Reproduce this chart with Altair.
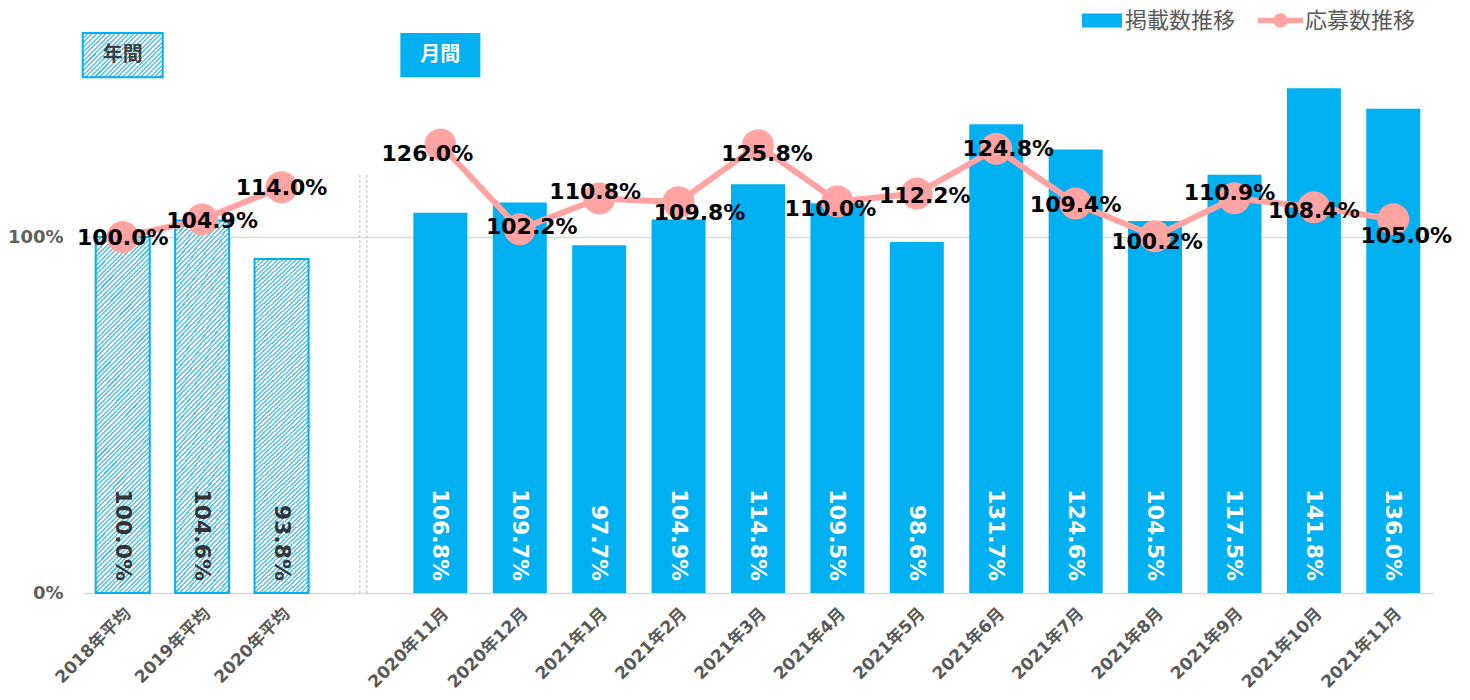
import altair as alt
import pandas as pd

# ---------------- data ----------------
annual_labels = ["2018年平均", "2019年平均", "2020年平均"]
annual_postings = [100.0, 104.6, 93.8]
annual_applications = [100.0, 104.9, 114.0]

monthly_labels = ["2020年11月", "2020年12月", "2021年1月", "2021年2月", "2021年3月",
                  "2021年4月", "2021年5月", "2021年6月", "2021年7月", "2021年8月",
                  "2021年9月", "2021年10月", "2021年11月"]
monthly_postings = [106.8, 109.7, 97.7, 104.9, 114.8, 109.5, 98.6, 131.7, 124.6,
                    104.5, 117.5, 141.8, 136.0]
monthly_applications = [126.0, 102.2, 110.8, 109.8, 125.8, 110.0, 112.2, 124.8,
                        109.4, 100.2, 110.9, 108.4, 105.0]

series_names = ["掲載数推移", "応募数推移"]
header_labels = ["年間", "月間"]
y_ticks = [0, 100]
gap = "gap"

# ---------------- styles ----------------
BLUE = "#00B0F0"
PINK = "#FFA3A3"
NUM_FONT = "DejaVu Sans, Noto Sans CJK JP, sans-serif"
JP_FONT = "Noto Sans CJK JP, sans-serif"
# pixel nudges of the line's value labels (annual first, then monthly), as placed in the source
LABEL_NUDGE = [(0, 0), (10, 0), (0, 0),
               (-13, 9), (12, -3), (-4, -8), (21, 10), (9, 8), (-7, 7), (8, 1),
               (12, -1), (0, 0), (2, 5), (-5, -6), (0, 3), (13, 16)]


def hatch(w, h, period=4.6, frac=0.45, color="#5CC6F2"):
    r = h / w
    k = (1 + r) / (1 + r * r)
    n = max(1, round((w + h) / period))
    stops = []
    for i in range(n):
        a = i / n
        b = (i + frac) / n
        c = (i + 1) / n
        stops += [alt.GradientStop(color=color, offset=a),
                  alt.GradientStop(color=color, offset=b),
                  alt.GradientStop(color="#FFFFFF", offset=b),
                  alt.GradientStop(color="#FFFFFF", offset=c)]
    return alt.LinearGradient(gradient="linear", stops=stops, x1=0, y1=0, x2=k, y2=k * r)


# ---------------- tables ----------------
annual = pd.DataFrame({"cat": annual_labels, "post": annual_postings,
                       "app": annual_applications, "grp": "annual"})
monthly = pd.DataFrame({"cat": monthly_labels, "post": monthly_postings,
                        "app": monthly_applications, "grp": "monthly"})
both = pd.concat([annual, monthly], ignore_index=True)
both["idx"] = range(len(both))
for df in (annual, monthly, both):
    df["post_label"] = [f"{v:.1f}%" for v in df["post"]]
    df["app_label"] = [f"{v:.1f}%" for v in df["app"]]
monthly["s1"] = series_names[0]
both["s2"] = series_names[1]

headers = pd.DataFrame({"cat": [annual_labels[0], monthly_labels[0]], "label": header_labels})
sep = pd.DataFrame({"cat": [gap]})

x_domain = annual_labels + [gap] + monthly_labels
x_scale = alt.Scale(domain=x_domain, paddingInner=0.32, paddingOuter=0.16)
x_axis = alt.Axis(title=None, labelAngle=-45, labelAlign="right", labelBaseline="top",
                  labelPadding=12, labelFont=NUM_FONT, labelFontSize=17,
                  labelFontWeight="bold", labelColor="#595959", domain=False,
                  ticks=False, grid=False, labelOverlap=False, labelLimit=0,
                  labelExpr=f"datum.value == '{gap}' ? '' : datum.value")
y_scale = alt.Scale(domain=[0, 150], nice=False)
y_axis = alt.Axis(title=None, values=y_ticks, labelExpr="datum.value + '%'", grid=True,
                  gridColor="#D9D9D9", gridWidth=1.5, domain=False, ticks=False,
                  labelPadding=20, labelFont=NUM_FONT, labelFontSize=18,
                  labelFontWeight="bold", labelColor="#606060")


def X(**kw):
    return alt.X("cat:N", scale=x_scale, axis=x_axis, **kw)


def Y(field):
    return alt.Y(field, scale=y_scale, axis=y_axis)


# ---------------- layers ----------------
bars_annual = alt.Chart(annual).mark_bar(
    fill=hatch(54, 354), stroke=BLUE, strokeWidth=2
).encode(x=X(), y=Y("post:Q"))

bars_monthly = alt.Chart(monthly).mark_bar().encode(
    x=X(), y=Y("post:Q"),
    fill=alt.Fill("s1:N", scale=alt.Scale(domain=[series_names[0]], range=[BLUE]),
                  legend=alt.Legend(title=None, orient="none", legendX=999, legendY=-58.5,
                                    symbolType="M-1,-0.35H1V0.35H-1Z", symbolSize=1600,
                                    symbolStrokeWidth=0, symbolOpacity=1, padding=0,
                                    labelFont=JP_FONT, labelFontSize=22,
                                    labelColor="#595959", labelOffset=3)))

label_annual = alt.Chart(annual).transform_calculate(base="0").mark_text(
    angle=90, align="right", baseline="middle", dx=-12, font=NUM_FONT,
    fontSize=22, fontWeight="bold", color="#333333"
).encode(x=X(), y=Y("base:Q"), text="post_label:N")

label_monthly = alt.Chart(monthly).transform_calculate(base="0").mark_text(
    angle=90, align="right", baseline="middle", dx=-12, font=NUM_FONT,
    fontSize=22, fontWeight="bold", color="white"
).encode(x=X(), y=Y("base:Q"), text="post_label:N")

sep_rules = [
    alt.Chart(sep).mark_rule(color="#BFBFBF", strokeWidth=1, strokeDash=[3, 2]).encode(
        x=X(bandPosition=bp), y=alt.YDatum(0), y2=alt.Y2Datum(117.7))
    for bp in (0.48, 0.61)
]

line = alt.Chart(both).mark_line(color=PINK, strokeWidth=6).encode(
    x=X(), y=Y("app:Q"), detail="grp:N", order="idx:Q")

points = alt.Chart(both).mark_circle(size=1020, opacity=1).encode(
    x=X(), y=Y("app:Q"),
    fill=alt.Fill("s2:N", scale=alt.Scale(domain=[series_names[1]], range=[PINK]),
                  legend=alt.Legend(title=None, orient="none", legendX=1175, legendY=-61,
                                    symbolType="M-1,-0.12H1V0.12H-1Z M-0.32,0A0.32,0.32 0 1,1 0.32,0A0.32,0.32 0 1,1 -0.32,0Z",
                                    symbolSize=2025, symbolStrokeWidth=0, symbolOpacity=1,
                                    padding=0, labelFont=JP_FONT, labelFontSize=22,
                                    labelColor="#595959", labelOffset=2)))

line_labels = [
    alt.Chart(both.iloc[[i]]).mark_text(
        font=NUM_FONT, fontSize=22, fontWeight="bold", color="black",
        align="center", baseline="middle", dx=LABEL_NUDGE[i][0], dy=LABEL_NUDGE[i][1] + 1
    ).encode(x=X(), y=Y("app:Q"), text="app_label:N")
    for i in range(len(both))
]

head_annual_box = alt.Chart(headers.iloc[[0]]).mark_bar(
    width=80, fill=hatch(80, 44), stroke=BLUE, strokeWidth=2
).encode(x=X(), y=alt.YDatum(157.3), y2=alt.Y2Datum(144.9))

head_monthly_box = alt.Chart(headers.iloc[[1]]).mark_bar(width=80, fill=BLUE).encode(
    x=X(), y=alt.YDatum(157.3), y2=alt.Y2Datum(144.9))

head_annual_text = alt.Chart(headers.iloc[[0]]).mark_text(
    font=JP_FONT, fontSize=20, fontWeight="bold", color="#404040", baseline="middle"
).encode(x=X(), y=alt.YDatum(151.1), text="label:N")

head_monthly_text = alt.Chart(headers.iloc[[1]]).mark_text(
    font=JP_FONT, fontSize=20, fontWeight="bold", color="white", baseline="middle"
).encode(x=X(), y=alt.YDatum(151.1), text="label:N")

chart = alt.layer(
    bars_annual, bars_monthly, label_annual, label_monthly, *sep_rules,
    line, points, *line_labels,
    head_annual_box, head_monthly_box, head_annual_text, head_monthly_text
).resolve_scale(fill="independent").properties(
    width=1350, height=534,
    autosize=alt.AutoSizeParams(type="none"),
    padding={"left": 83, "top": 59, "right": 37, "bottom": 107},
    background="white"
).configure_view(stroke=None)

chart.save("out.html", embed_options={"renderer": "svg", "actions": False})
